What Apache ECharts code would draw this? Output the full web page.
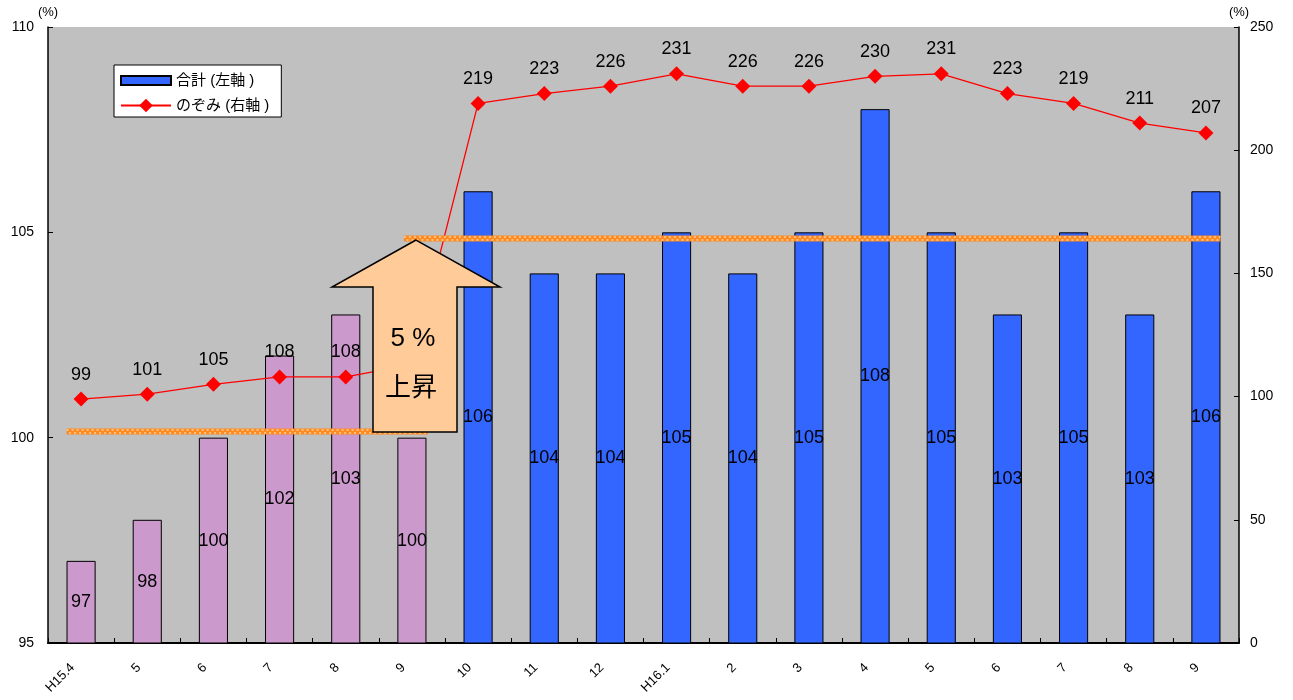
<!DOCTYPE html>
<html><head><meta charset="utf-8">
<script src="https://cdn.jsdelivr.net/npm/echarts@6/dist/echarts.min.js"></script>
<style>html,body{margin:0;padding:0;background:#fff}#c{width:1293px;height:700px}</style>
</head><body><div id="c"></div>
<script>
// ---- data ----
const categories = ['H15.4','5','6','7','8','9','10','11','12','H16.1','2','3','4','5','6','7','8','9'];
const totalValues = [97,98,100,102,103,100,106,104,104,105,104,105,108,105,103,105,103,106];
const nozomiValues = [99,101,105,108,108,113,219,223,226,231,226,226,230,231,223,219,211,207];
const prePeriodCount = 6;              // first bars drawn in pink
const referenceLevels = [100.15, 104.85]; // dashed orange level lines (left axis)
const seriesNames = ['合計 (左軸 )', 'のぞみ (右軸 )'];
const arrowTexts = ['5 %', '上昇'];
const unitText = '(%)';

const FONT = "'Liberation Sans', Arial, 'Noto Sans CJK JP', sans-serif";
const chart = echarts.init(document.getElementById('c'), null, {renderer: 'canvas'});

const barData = totalValues.map((v, i) => i < prePeriodCount
  ? {value: v, itemStyle: {color: '#cc99cc'}}
  : v);

const option = {
  backgroundColor: '#ffffff',
  animation: false,
  textStyle: {fontFamily: FONT, color: '#000'},
  grid: {left: 48, right: 54, top: 27, bottom: 57, show: true, backgroundColor: '#c0c0c0', borderWidth: 0, containLabel: false},
  legend: {
    orient: 'vertical', left: 114, top: 65,
    backgroundColor: '#ffffff', borderColor: '#000', borderWidth: 1,
    padding: [6, 12, 4, 6], itemGap: 8, itemWidth: 50, itemHeight: 17,
    textStyle: {fontSize: 15, color: '#000', fontFamily: FONT},
    data: [
      {name: seriesNames[0], icon: 'path://M0,0L0,0M0,4L50,4L50,13L0,13ZM50,17L50,17'},
      {name: seriesNames[1]}
    ]
  },
  xAxis: {
    type: 'category', data: categories, boundaryGap: true,
    axisLine: {show: true, lineStyle: {color: '#000', width: 2}},
    axisTick: {show: true, inside: true, length: 5, interval: 0, lineStyle: {color: '#000'}},
    axisLabel: {interval: 0, rotate: 45, margin: 14, fontSize: 13, color: '#000', padding: [0, 12, 0, 0], fontFamily: FONT},
    splitLine: {show: false}
  },
  yAxis: [
    {
      type: 'value', position: 'left', min: 95, max: 110, interval: 5,
      name: unitText, nameLocation: 'end', nameGap: 8,
      nameTextStyle: {fontSize: 13, color: '#000', fontFamily: FONT},
      axisLine: {show: true, lineStyle: {color: '#000', width: 1.5}},
      axisTick: {show: true, inside: true, length: 5, lineStyle: {color: '#000'}},
      axisLabel: {fontSize: 14, color: '#000', margin: 14, fontFamily: FONT},
      splitLine: {show: false}
    },
    {
      type: 'value', position: 'right', min: 0, max: 250, interval: 50,
      name: unitText, nameLocation: 'end', nameGap: 8,
      nameTextStyle: {fontSize: 13, color: '#000', fontFamily: FONT},
      axisLine: {show: true, lineStyle: {color: '#000', width: 1.5}},
      axisTick: {show: true, inside: true, length: 5, lineStyle: {color: '#000'}},
      axisLabel: {fontSize: 14, color: '#000', margin: 11, fontFamily: FONT},
      splitLine: {show: false}
    }
  ],
  series: [
    {
      name: seriesNames[0], type: 'bar', yAxisIndex: 0, data: barData,
      barWidth: '44%', z: 2,
      itemStyle: {color: '#3366ff', borderColor: '#000', borderWidth: 1},
      label: {show: true, position: 'inside', fontSize: 18, color: '#000', fontFamily: FONT},
      emphasis: {disabled: true}
    },
    {
      name: seriesNames[1], type: 'line', yAxisIndex: 1, data: nozomiValues,
      z: 3, symbol: 'diamond', symbolSize: 15,
      lineStyle: {color: '#ff0000', width: 1.3},
      itemStyle: {color: '#ff0000'},
      label: {show: true, position: 'top', distance: 8, fontSize: 18, color: '#000', fontFamily: FONT},
      emphasis: {disabled: true}
    }
  ]
};
chart.setOption(option);

// ---- annotations: level lines + arrow ----
function catX(i) { return chart.convertToPixel({xAxisIndex: 0}, i); }
function lvlY(v) { return chart.convertToPixel({yAxisIndex: 0}, v); }
const last = categories.length - 1;
const segs = [
  [catX(0) - 14.5, catX(prePeriodCount - 1) + 16, lvlY(referenceLevels[0])],
  [catX(prePeriodCount - 1) - 8, catX(last) + 14.5, lvlY(referenceLevels[1])]
];
const graphics = [];
segs.forEach(s => {
  graphics.push({type: 'line', z: 50, silent: true, shape: {x1: s[0], y1: s[2], x2: s[1], y2: s[2]},
    style: {stroke: '#ff8a1f', lineWidth: 6}});
  graphics.push({type: 'line', z: 51, silent: true, shape: {x1: s[0], y1: s[2] - 1.5, x2: s[1], y2: s[2] - 1.5},
    style: {stroke: '#ffd2a6', lineWidth: 1.5, lineDash: [2, 3]}});
  graphics.push({type: 'line', z: 51, silent: true, shape: {x1: s[0] + 2.5, y1: s[2] + 1.5, x2: s[1], y2: s[2] + 1.5},
    style: {stroke: '#ffd2a6', lineWidth: 1.5, lineDash: [2, 3]}});
});
graphics.push({
  type: 'polygon', z: 100, silent: true,
  shape: {points: [[416,240],[332,287],[373,287],[373,432],[457,432],[457,287],[500,287]]},
  style: {fill: '#ffcc99', stroke: '#000', lineWidth: 1.5}
});
graphics.push({type: 'text', z: 101, silent: true, x: 413, y: 339,
  style: {text: arrowTexts[0], fontSize: 26, fontFamily: FONT, fill: '#000', align: 'center', verticalAlign: 'middle'}});
graphics.push({type: 'text', z: 101, silent: true, x: 411, y: 386,
  style: {text: arrowTexts[1], fontSize: 26, fontFamily: "'Noto Sans CJK JP', sans-serif", fill: '#000', align: 'center', verticalAlign: 'middle'}});
chart.setOption({graphic: graphics});
</script>
</body></html>
